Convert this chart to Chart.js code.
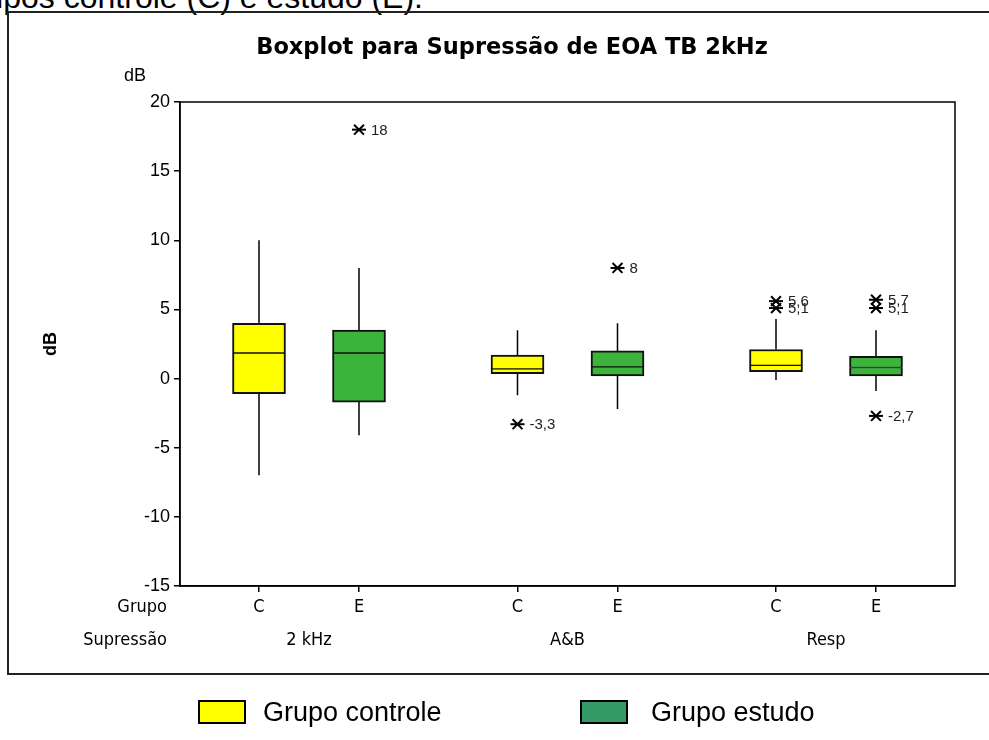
<!DOCTYPE html>
<html>
<head>
<meta charset="utf-8">
<script src="https://cdn.jsdelivr.net/npm/chart.js@4.4.1/dist/chart.umd.min.js"></script>
<style>
  body { margin: 0; background: #fff; width: 989px; height: 740px; position: relative; overflow: hidden; font-family: "Liberation Sans", Arial, sans-serif; }
  #caption { position: absolute; right: 566px; top: -21px; font-size: 32px; white-space: nowrap; color: #000; }
  #frame { position: absolute; left: 7px; top: 11px; width: 1000px; height: 664px; border: 2px solid #222; box-sizing: border-box; }
  #wrap { position: absolute; left: 0; top: 0; width: 989px; height: 740px; }
  .swatch { position: absolute; top: 700px; width: 48px; height: 24px; border: 2px solid #000; box-sizing: border-box; }
  .legtext { position: absolute; top: 696px; font-size: 27px; line-height: 32px; color: #000; white-space: nowrap; }
</style>
</head>
<body>
<div id="caption">grupos controle (C) e estudo (E).</div>
<div id="frame"></div>
<div id="wrap"><canvas id="myChart" width="989" height="740"></canvas></div>
<div class="swatch" style="left:198px;background:#ffff00"></div>
<div class="legtext" style="left:263px">Grupo controle</div>
<div class="swatch" style="left:580px;background:#339966"></div>
<div class="legtext" style="left:651px">Grupo estudo</div>
<script>
// categories
const grupos = ["C", "E"];
const supressoes = ["2 kHz", "A&B", "Resp"];

// grupo controle (C), one value per supressao
const ctrlMin = [-7, -1.2, -0.1];
const ctrlQ1 = [-1.1, 0.35, 0.5];
const ctrlMed = [1.85, 0.7, 0.95];
const ctrlQ3 = [4, 1.7, 2.1];
const ctrlMax = [10, 3.5, 4.3];

// grupo estudo (E)
const estMin = [-4.1, -2.2, -0.9];
const estQ1 = [-1.7, 0.2, 0.2];
const estMed = [1.85, 0.85, 0.8];
const estQ3 = [3.5, 2, 1.6];
const estMax = [8, 4, 3.5];

// outliers: supressao index, grupo index, value
const outSup = [0, 1, 1, 2, 2, 2, 2, 2];
const outGrupo = [1, 0, 1, 0, 0, 1, 1, 1];
const outValue = [18, -3.3, 8, 5.6, 5.1, 5.7, 5.1, -2.7];

const yTicks = [-15, -10, -5, 0, 5, 10, 15, 20];

// x position of a box (layout only)
function pos(s, g) {
  return 0.79 + s * 2.585 + g;
}

function boxHalves(q1, med, q3, g) {
  const out = [];
  supressoes.forEach((_, s) => {
    out.push({ x: pos(s, g), y: [q1[s], med[s]] });
    out.push({ x: pos(s, g), y: [med[s], q3[s]] });
  });
  return out;
}

function whiskers() {
  const out = [];
  const sets = [[ctrlMin, ctrlQ1, ctrlQ3, ctrlMax], [estMin, estQ1, estQ3, estMax]];
  sets.forEach(([mn, q1, q3, mx], g) => {
    supressoes.forEach((_, s) => {
      const x = pos(s, g);
      out.push({ x: x, y: q3[s] }, { x: x, y: mx[s] }, { x: x, y: null });
      out.push({ x: x, y: q1[s] }, { x: x, y: mn[s] }, { x: x, y: null });
    });
  });
  return out;
}

const outPoints = outValue.map((v, i) => ({ x: pos(outSup[i], outGrupo[i]), y: v }));
const tickPositions = [];
supressoes.forEach((_, s) => grupos.forEach((_, g) => tickPositions.push(pos(s, g))));

const narrowFont = "'Liberation Sans Narrow', 'DejaVu Sans Condensed', 'Liberation Sans', sans-serif";

// lower half gets a thin top edge, upper half a thin bottom edge: together they make the median line
const halfBorder = (c) =>
  c.dataIndex % 2 === 0
    ? { top: 1, left: 2, right: 2, bottom: 2 }
    : { top: 2, left: 2, right: 2, bottom: 1 };

// extra drawing: frame of the plot, title, labels
const extras = {
  id: "extras",
  afterDatasetsDraw(chart) {
    const { ctx, chartArea } = chart;
    const xs = chart.scales.x;
    ctx.save();
    ctx.strokeStyle = "#000";
    ctx.lineWidth = 1.5;
    ctx.strokeRect(chartArea.left, chartArea.top, chartArea.right - chartArea.left, chartArea.bottom - chartArea.top);

    // outlier labels
    const meta = chart.getDatasetMeta(3);
    ctx.fillStyle = "#222";
    ctx.font = "15px 'Liberation Sans', Arial, sans-serif";
    ctx.textAlign = "left";
    ctx.textBaseline = "middle";
    meta.data.forEach((pt, i) => {
      ctx.fillText(String(outValue[i]).replace(".", ","), pt.x + 12, pt.y + 1);
    });

    // title
    ctx.fillStyle = "#000";
    ctx.font = "bold 22.5px 'DejaVu Sans', sans-serif";
    ctx.textAlign = "center";
    ctx.fillText("Boxplot para Supressão de EOA TB 2kHz", 512, 48);

    ctx.font = "18px 'Liberation Sans', Arial, sans-serif";
    ctx.fillText("dB", 135, 76);

    // second row of the x axis
    ctx.font = "18px " + narrowFont;
    supressoes.forEach((name, s) => {
      const mid = (xs.getPixelForValue(pos(s, 0)) + xs.getPixelForValue(pos(s, 1))) / 2;
      ctx.fillText(name, mid, 640);
    });
    ctx.textAlign = "right";
    ctx.fillText("Grupo", 167, 607);
    ctx.fillText("Supressão", 167, 640);
    ctx.restore();
  }
};

const config = {
  type: "bar",
  data: {
    datasets: [
      {
        label: "Grupo controle",
        data: boxHalves(ctrlQ1, ctrlMed, ctrlQ3, 0),
        backgroundColor: "#ffff00",
        borderColor: "#111",
        borderWidth: halfBorder,
        borderSkipped: false,
        barThickness: 53,
        grouped: false,
        order: 1
      },
      {
        label: "Grupo estudo",
        data: boxHalves(estQ1, estMed, estQ3, 1),
        backgroundColor: "#3cb43c",
        borderColor: "#111",
        borderWidth: halfBorder,
        borderSkipped: false,
        barThickness: 53,
        grouped: false,
        order: 1
      },
      {
        type: "line",
        label: "whiskers",
        data: whiskers(),
        borderColor: "#000",
        borderWidth: 1.5,
        pointRadius: 0,
        spanGaps: false,
        order: 2
      },
      {
        type: "line",
        label: "outliers",
        data: outPoints,
        showLine: false,
        pointStyle: "crossRot",
        pointRadius: 7,
        borderColor: "#000",
        borderWidth: 2,
        order: 0
      },
      {
        type: "line",
        label: "outliers h",
        data: outPoints,
        showLine: false,
        pointStyle: "line",
        pointRadius: 7,
        borderColor: "#000",
        borderWidth: 2,
        order: 0
      }
    ]
  },
  options: {
    responsive: false,
    animation: false,
    layout: {
      padding: { left: 40, top: 102, right: 34, bottom: 114 }
    },
    plugins: {
      legend: { display: false },
      title: { display: false },
      tooltip: { enabled: false }
    },
    scales: {
      x: {
        type: "linear",
        min: 0,
        max: 7.75,
        offset: false,
        afterBuildTicks: (axis) => {
          axis.ticks = tickPositions.map((v) => ({ value: v }));
        },
        afterFit: (axis) => {
          axis.height = 40;
        },
        ticks: {
          autoSkip: false,
          maxRotation: 0,
          padding: 5,
          color: "#000",
          font: { size: 18, family: narrowFont },
          callback: function (value, index) {
            return grupos[index % 2];
          }
        },
        grid: { offset: false, drawOnChartArea: false, drawTicks: true, tickLength: 6, color: "#000", lineWidth: 1.5 },
        border: { display: true, color: "#000", width: 1.5 }
      },
      y: {
        min: -15,
        max: 20,
        afterBuildTicks: (axis) => {
          axis.ticks = yTicks.map((v) => ({ value: v }));
        },
        afterFit: (axis) => {
          axis.width = 140;
        },
        title: {
          display: true,
          text: "dB",
          color: "#000",
          padding: 0,
          font: { size: 18, weight: "bold", family: "'Liberation Sans', Arial, sans-serif" }
        },
        ticks: {
          padding: 4,
          color: "#000",
          font: { size: 18, family: "'Liberation Sans', Arial, sans-serif" },
          callback: (v) => String(v)
        },
        grid: { drawOnChartArea: false, drawTicks: true, tickLength: 6, color: "#000", lineWidth: 1.5 },
        border: { display: true, color: "#000", width: 1.5 }
      }
    }
  },
  plugins: [extras]
};

const ctx = document.getElementById("myChart").getContext("2d");
new Chart(ctx, config);
</script>
</body>
</html>
